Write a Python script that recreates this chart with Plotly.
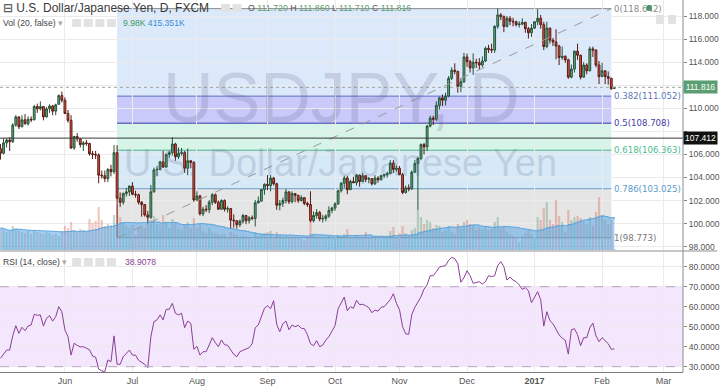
import numpy as np
import pandas as pd
import plotly.graph_objects as go

# ---------------- data ----------------
dates = pd.bdate_range("2016-05-03", "2017-02-07")

open_ = [106.50,106.10,107.00,107.25,107.10,108.55,109.25,108.40,109.00,108.65,
         109.05,109.00,110.15,109.95,110.15,109.25,109.95,110.20,109.75,110.35,111.10,
         110.70,109.55,108.95,106.55,107.55,107.35,106.85,107.00,106.95,106.05,
         106.00,105.95,104.20,104.15,103.90,104.70,104.50,106.15,102.20,101.85,
         102.60,102.75,103.25,102.55,102.50,101.85,101.65,100.75,100.55,102.75,
         104.65,104.70,105.35,104.90,106.00,106.15,106.90,105.80,106.10,106.15,
         104.80,105.45,105.30,102.05,102.40,100.85,101.25,101.20,101.85,102.50,
         101.85,101.25,102.00,101.25,101.30,100.30,100.25,99.90,100.20,100.70,
         100.25,100.50,100.45,101.80,101.95,102.95,103.40,103.30,103.95,103.45,
         101.60,101.75,102.00,102.75,101.90,102.60,102.45,102.00,102.25,101.75,
         101.65,100.25,100.70,100.95,100.40,100.45,100.65,101.15,101.35,101.70,
         102.85,103.50,103.95,102.95,103.65,103.55,104.20,103.65,104.15,103.85,
         103.90,103.45,103.95,103.80,104.15,104.25,104.35,105.25,104.70,104.80,
         104.25,102.70,103.10,103.00,104.45,105.20,105.65,106.85,106.65,108.45,
         109.15,109.05,110.25,110.90,110.70,111.05,112.60,113.30,113.20,111.90,
         112.30,114.45,114.05,113.50,114.00,113.95,113.75,114.10,115.20,115.10,
         115.05,117.10,118.10,117.95,117.10,117.80,117.55,117.50,117.25,117.30,
         117.45,116.90,116.55,116.95,117.50,117.80,117.25,115.35,116.95,115.90,
         115.75,115.40,114.40,114.50,114.20,112.70,113.40,114.95,114.60,112.70,
         113.75,113.25,115.15,115.05,113.75,112.75,113.25,112.75,112.60,111.72]

high_ = [106.90,107.40,107.40,107.50,108.70,109.40,109.30,109.40,109.50,109.30,
         109.30,110.30,110.40,110.60,110.20,110.10,110.35,110.30,110.40,111.20,111.45,
         110.95,109.85,109.40,107.60,107.85,107.40,107.15,107.25,107.00,106.30,
         106.30,106.10,104.60,104.60,104.80,105.10,106.80,106.80,102.70,102.70,
         103.10,103.30,103.60,102.85,102.60,101.95,101.70,101.10,103.35,104.85,
         105.00,105.45,106.30,106.05,106.30,107.50,107.00,106.60,106.55,106.30,
         106.50,105.50,105.40,102.80,102.50,101.45,101.60,102.05,102.65,102.60,
         102.00,102.10,102.10,101.50,101.35,100.80,100.30,100.35,100.85,100.75,
         100.65,100.70,102.05,102.35,103.00,103.50,104.20,104.20,104.05,103.55,
         102.05,102.25,103.00,102.80,102.80,102.65,102.50,102.45,102.30,101.90,
         102.80,101.05,101.25,101.10,100.75,100.80,101.50,101.45,101.85,102.90,
         103.60,104.15,104.15,103.80,104.05,104.30,104.25,104.40,104.20,104.05,
         103.95,104.20,104.10,104.25,104.30,104.50,105.50,105.50,105.05,105.00,
         104.40,103.30,103.40,104.60,105.50,105.80,106.95,107.00,108.55,109.35,
         109.35,110.60,111.00,111.20,111.35,112.80,113.55,113.90,113.25,112.60,
         114.80,114.75,114.20,114.75,114.30,114.35,114.50,115.35,115.50,115.60,
         117.20,118.643,118.25,118.05,118.00,118.00,117.85,117.60,117.55,117.80,
         117.50,117.05,117.30,117.55,118.60,118.10,117.50,117.50,117.00,116.10,
         116.85,115.50,115.35,114.60,114.30,113.80,115.00,115.60,114.65,114.00,
         113.90,115.35,115.35,115.10,114.10,113.95,113.30,113.20,112.65,111.86]

low_ = [105.55,106.00,106.60,106.30,107.00,108.40,108.20,108.35,108.60,108.50,
        108.80,108.95,109.60,109.80,108.95,109.20,109.60,109.40,109.40,110.30,110.50,
        109.50,108.75,106.50,106.40,107.10,106.60,106.30,106.75,105.90,105.60,
        105.60,103.50,103.90,103.60,103.60,104.10,104.30,98.773,101.45,101.65,
        102.35,102.40,102.45,102.25,101.65,100.60,100.60,99.95,100.40,102.70,
        104.10,104.60,104.85,104.85,105.70,105.90,105.45,105.60,105.90,104.40,
        104.20,104.80,101.90,101.95,100.70,100.65,101.00,100.90,101.60,101.70,
        101.20,101.20,101.05,100.95,99.55,99.65,99.55,99.70,100.00,99.95,
        100.00,100.30,99.75,101.75,101.90,102.50,102.90,102.80,103.30,101.20,
        101.15,101.45,101.75,101.70,101.75,101.85,101.80,101.90,101.60,101.45,
        100.10,100.10,100.45,100.20,100.10,100.20,100.50,100.90,101.10,101.65,
        102.70,103.10,102.55,102.90,103.50,103.30,103.20,103.60,103.60,103.50,
        103.30,103.35,103.55,103.75,103.95,104.00,104.30,104.40,104.50,104.20,
        102.55,102.60,102.80,102.95,104.40,101.20,105.50,106.00,106.30,108.35,
        108.55,108.90,109.90,110.20,110.25,110.95,112.45,112.95,111.35,111.40,
        112.20,113.60,113.10,112.90,113.50,113.35,113.55,114.00,114.80,114.80,
        114.80,116.90,117.65,116.60,117.00,117.20,117.10,117.10,117.00,117.20,
        116.55,116.05,116.20,116.90,117.20,116.90,115.05,115.20,115.60,115.40,
        114.25,113.75,114.20,113.95,112.55,112.60,113.10,114.20,112.50,112.65,
        112.95,113.20,114.45,113.55,112.10,112.70,112.10,112.05,111.60,111.71]

close_ = [106.10,107.00,107.25,107.10,108.55,109.25,108.40,109.00,108.65,109.05,
          109.00,110.15,109.95,110.15,109.25,109.95,110.20,109.75,110.30,111.10,110.70,
          109.55,108.95,106.55,107.55,107.35,106.85,107.00,106.95,106.05,106.00,
          105.95,104.20,104.15,103.90,104.70,104.50,106.15,102.20,101.85,102.60,
          102.75,103.25,102.55,102.50,101.85,101.65,100.75,100.55,102.75,104.65,
          104.70,105.35,104.90,106.00,106.15,106.90,105.80,106.10,106.15,104.80,
          105.45,105.30,102.05,102.40,100.85,101.25,101.20,101.85,102.50,101.85,
          101.25,102.00,101.25,101.30,100.30,100.25,99.90,100.20,100.70,100.25,
          100.50,100.45,101.80,101.95,102.95,103.40,103.30,103.95,103.45,101.60,
          101.75,102.00,102.75,101.90,102.60,102.45,102.00,102.25,101.75,101.65,
          100.25,100.70,100.95,100.40,100.45,100.65,101.15,101.35,101.70,102.85,
          103.50,103.95,102.95,103.65,103.55,104.20,103.65,104.15,103.85,103.90,
          103.45,103.95,103.80,104.15,104.25,104.35,105.25,104.70,104.80,104.25,
          102.70,103.10,103.00,104.45,105.20,105.65,106.85,106.65,108.45,109.15,
          109.05,110.25,110.90,110.70,111.05,112.60,113.30,113.20,111.90,112.30,
          114.45,114.05,113.50,114.00,113.95,113.75,114.10,115.20,115.10,115.05,
          117.10,118.10,117.95,117.10,117.80,117.55,117.50,117.25,117.30,117.45,
          116.90,116.55,116.95,117.50,117.80,117.25,115.35,116.95,115.90,115.75,
          115.40,114.40,114.50,114.20,112.70,113.40,114.95,114.60,112.70,113.75,
          113.25,115.15,115.05,113.75,112.75,113.25,112.75,112.60,111.70,111.816]

volume_k = [277,252,227,239,302,277,252,227,214,239,202,252,227,214,202,227,214,189,202,176,239,
            302,277,353,252,239,265,252,239,391,340,365,542,378,302,328,315,441,567,416,353,
            302,277,315,189,277,302,277,328,378,428,328,315,441,353,277,391,353,277,252,328,
            353,277,403,277,328,239,214,277,227,214,202,189,202,164,227,202,189,164,176,164,
            151,139,227,176,202,214,227,239,151,227,189,164,176,164,164,151,151,139,126,164,
            466,202,164,151,151,164,176,151,151,189,176,202,265,151,151,176,164,164,227,151,
            164,176,151,139,151,151,239,290,164,214,302,214,189,252,277,517,416,328,378,353,
            277,315,302,227,252,302,227,202,328,277,353,378,328,315,252,277,265,302,252,265,
            353,416,277,302,227,202,176,151,101,176,214,252,202,151,416,378,529,605,378,328,
            630,428,353,227,504,378,416,428,403,353,328,416,302,479,668,441,378,328,378,9.98]

rsi_values = [34.2,36.3,38.3,38.3,45.5,50.5,46.7,49.7,48.0,50.3,50.9,56.2,55.7,55.9,50.3,54.2,55.5,52.8,55.0,60.0,57.5,
              48.4,45.0,35.8,41.7,40.7,39.9,40.0,39.3,38.5,35.3,34.8,28.8,27.9,27.5,33.4,32.5,45.4,31.2,31.2,35.0,36.4,38.3,35.8,35.8,33.2,
              32.3,31.2,29.5,45.0,52.5,53.4,55.9,53.4,58.7,58.7,61.7,56.7,55.9,56.7,49.5,52.8,51.7,38.7,40.2,35.8,37.5,37.5,40.85,44.5,42.0,
              40.0,43.4,41.0,40.7,38.5,36.2,35.0,37.5,38.2,38.7,39.5,41.5,49.5,50.85,55.5,59.2,60.5,59.0,63.0,51.0,47.5,51.5,52.8,48.5,50.85,
              50.0,50.7,49.2,49.0,46.0,41.5,40.5,43.0,40.0,40.8,43.3,45.0,47.5,50.5,59.0,62.0,64.8,58.0,60.0,59.2,63.2,61.0,61.2,60.5,59.5,
              57.0,58.3,57.8,59.7,60.0,61.5,63.5,66.5,61.7,58.5,50.0,46.5,46.2,56.0,59.7,62.3,65.0,68.8,71.0,75.5,75.5,77.5,79.8,80.2,80.5,
              83.2,84.7,84.0,81.5,72.2,74.5,78.0,75.5,71.7,72.3,72.5,71.3,72.5,75.5,75.0,75.5,80.6,82.5,80.0,73.3,74.8,73.3,72.5,70.9,68.7,
              69.5,68.0,62.0,64.5,67.5,63.5,50.3,57.5,53.0,51.5,49.0,45.9,44.3,43.2,36.3,48.5,49.0,46.0,40.5,44.5,44.5,49.5,51.8,45.5,42.5,
              44.5,43.0,41.5,38.7,38.9078]

month_starts = ["2016-06-01", "2016-07-01", "2016-08-01", "2016-09-01", "2016-10-03",
                "2016-11-01", "2016-12-01", "2017-01-02", "2017-02-01", "2017-03-01"]
month_labels = ["Jun", "Jul", "Aug", "Sep", "Oct", "Nov", "Dec", "<b>2017</b>", "Feb", "Mar"]

price_ticks = [98, 100, 102, 104, 106, 108, 110, 112, 114, 116, 118]
price_tick_text = ["98.000", "100.000", "102.000", "104.000", "106.000", "",
                   "110.000", "", "114.000", "116.000", "118.000"]
rsi_ticks = [30, 40, 50, 60, 70, 80]

fib_low, fib_high = 98.773, 118.6425
fib_start, fib_end = "2016-06-24", "2017-02-06"
fib_levels = [0, 0.382, 0.5, 0.618, 0.786, 1]
hline_price = 107.412
last_price = 111.816

# ---------------- positions ----------------
all_days = pd.bdate_range("2016-05-03", "2017-03-01")
xpos = np.arange(len(dates))
tick_pos = [all_days.get_loc(pd.Timestamp(d)) for d in month_starts]
fx0 = all_days.get_loc(pd.Timestamp(fib_start))
fx1 = all_days.get_loc(pd.Timestamp(fib_end))

W_PLOT, H_PLOT = 686.0, 372.0
def px(x): return x / W_PLOT
def py(y): return 1 - y / H_PLOT

FONT = "Liberation Sans"
fig = go.Figure()

# volume
vol_colors = ["rgba(107,165,131,0.42)" if c >= o else "rgba(215,84,66,0.32)"
              for o, c in zip(open_, close_)]
fig.add_trace(go.Bar(x=xpos, y=volume_k, marker=dict(color=vol_colors, line=dict(width=0)),
                     width=0.72, xaxis="x", yaxis="y3", showlegend=False, hoverinfo="skip"))
vol_ma = pd.Series(volume_k).rolling(20, min_periods=1).mean()
fig.add_trace(go.Scatter(x=xpos, y=vol_ma, mode="lines", fill="tozeroy",
                         line=dict(color="rgba(70,155,225,0.8)", width=1, shape="hv"),
                         fillcolor="rgba(90,168,232,0.55)",
                         xaxis="x", yaxis="y3", showlegend=False, hoverinfo="skip"))

# candles
fig.add_trace(go.Candlestick(
    x=xpos, open=open_, high=high_, low=low_, close=close_,
    increasing=dict(fillcolor="#6ba583", line=dict(color="#225437", width=1)),
    decreasing=dict(fillcolor="#d75442", line=dict(color="#5b1a13", width=1)),
    xaxis="x", yaxis="y", showlegend=False, whiskerwidth=0))

# RSI
fig.add_trace(go.Scatter(x=xpos, y=rsi_values, mode="lines",
                         line=dict(color="#8a3f96", width=1),
                         xaxis="x2", yaxis="y2", showlegend=False))

shapes = []
# fib fills
fib_prices = [fib_high - l * (fib_high - fib_low) for l in fib_levels]
fill_cols = ["rgb(220,233,250)", "rgb(201,201,250)", "rgb(215,244,232)",
             "rgb(213,233,246)", "rgb(229,229,229)"]
for i in range(5):
    shapes.append(dict(type="rect", xref="x", yref="y", x0=fx0, x1=fx1,
                       y0=fib_prices[i + 1], y1=fib_prices[i], fillcolor=fill_cols[i],
                       line=dict(width=0), layer="below"))
line_cols = ["#8c8c8c", "#5a6cc2", "#3434a8", "#4cb585", "#6a9ecb", "#8c8c8c"]
for p, c in zip(fib_prices, line_cols):
    shapes.append(dict(type="line", xref="x", yref="y", x0=fx0, x1=fx1, y0=p, y1=p,
                       line=dict(color=c, width=1), layer="below"))
# diagonal
shapes.append(dict(type="line", xref="x", yref="y", x0=fx0, x1=fx1, y0=fib_low, y1=fib_high,
                   line=dict(color="#9a9a9a", width=1, dash="dash")))
# horizontal lines
shapes.append(dict(type="line", xref="paper", yref="y", x0=0, x1=1, y0=hline_price, y1=hline_price,
                   line=dict(color="#3a3a3a", width=1)))
shapes.append(dict(type="line", xref="paper", yref="y", x0=0, x1=1, y0=last_price, y1=last_price,
                   line=dict(color="#9aaa9e", width=1, dash="dot")))
# RSI band
shapes.append(dict(type="rect", xref="paper", yref="y2", x0=0, x1=1, y0=30, y1=70,
                   fillcolor="rgb(244,230,252)", line=dict(width=0), layer="below"))
for v in (30, 70):
    shapes.append(dict(type="line", xref="paper", yref="y2", x0=0, x1=1, y0=v, y1=v,
                       line=dict(color="#b9a6c2", width=1, dash="dash")))
# separators
shapes.append(dict(type="line", xref="paper", yref="paper", x0=0, x1=1.05, y0=py(251), y1=py(251),
                   line=dict(color="#b4b4b4", width=1.5)))
shapes.append(dict(type="line", xref="paper", yref="paper", x0=1, x1=1, y0=0, y1=1,
                   line=dict(color="#8a8a8a", width=1)))
# legend buttons
def btn(x0, y0, w=9, h=8):
    shapes.append(dict(type="rect", xref="paper", yref="paper", x0=px(x0), x1=px(x0 + w),
                       y0=py(y0 + h), y1=py(y0), fillcolor="#e2e2e2", line=dict(width=0)))
for bx in (72.5, 84.2, 95.8, 107.4):
    btn(bx, 19)
    btn(bx, 258)
btn(222, 4)
btn(233.5, 4)
btn(659, 15, 8, 9)
btn(671, 15, 8, 9)

ann = []
def text(x, y, s, size=8.6, color="#444", anchor="left", family=FONT, **kw):
    ann.append(dict(xref="paper", yref="paper", x=px(x), y=py(y), text=s, showarrow=False,
                    xanchor=anchor, yanchor="middle", font=dict(size=size, color=color, family=family), **kw))

# watermark
text(343, 98, "USDJPY, D", size=70, color="rgba(95,95,140,0.20)", anchor="center")
text(342, 163, "U.S. Dollar/Japanese Yen", size=38, color="rgba(95,95,140,0.20)", anchor="center")

text(1, 8, "⊟ U.S. Dollar/Japanese Yen, D, FXCM", size=12, color="#3a3a3a")
g = "#5f9c73"
text(247, 8, f"O <span style='color:{g}'>111.720</span> H <span style='color:{g}'>111.860</span> "
             f"L <span style='color:{g}'>111.710</span> C <span style='color:{g}'>111.816</span>",
     size=8.8, color="#555")
text(1, 23, "Vol (20, false) <span style='color:#aaa'>▾</span>")
text(122, 23, "<span style='color:#3f9a60'>9.98K</span> <span style='color:#3a8fd2'>415.351K</span>")
text(1, 262, "RSI (14, close) <span style='color:#aaa'>▾</span>")
text(124, 262, "38.9078", color="#8a3f96")

# fib labels
lab_cols = ["#8a8a8a", "#5b78b8", "#3d3da6", "#4cbb8c", "#5a9bc8", "#777777"]
for l, p, c in zip(fib_levels, fib_prices, lab_cols):
    ann.append(dict(xref="x", yref="y", x=fx1, y=p, xshift=1, text=f"{l:g}({p:.3f})",
                    showarrow=False, xanchor="left", yanchor="middle",
                    font=dict(size=8.6, color=c, family="DejaVu Sans")))

# price labels on axis
for val, bg in ((last_price, "#5b9e72"), (hline_price, "#111111")):
    ann.append(dict(xref="paper", yref="y", x=1, y=val, text=f"{val:.3f}", showarrow=False,
                    xanchor="left", yanchor="middle", bgcolor=bg, width=31, borderpad=1,
                    font=dict(size=8.5, color="white", family=FONT)))
# realtime dot
shapes.append(dict(type="circle", xref="paper", yref="paper", x0=px(649), x1=px(655),
                   y0=py(11), y1=py(5), fillcolor="#2f9a5a", line=dict(width=0)))

axis_font = dict(size=8.5, color="#555", family=FONT)
grid = "#ebebeb"
fig.update_layout(
    width=720, height=391, margin=dict(l=0, r=34, t=0, b=19),
    paper_bgcolor="white", plot_bgcolor="white",
    shapes=shapes, annotations=ann, showlegend=False, hovermode=False,
    boxgap=0.15,
    xaxis=dict(domain=[0, 1], anchor="y", range=[-0.15, 222.36], showticklabels=False,
               tickvals=tick_pos, showgrid=True, gridcolor=grid, zeroline=False,
               rangeslider=dict(visible=False), fixedrange=True),
    xaxis2=dict(domain=[0, 1], anchor="y2", matches="x", range=[-0.15, 222.36],
                tickvals=tick_pos, ticktext=month_labels, showgrid=True, gridcolor=grid,
                zeroline=False, showline=True, linecolor="#7a7a7a", ticks="",
                tickfont=dict(size=9, color="#555", family=FONT)),
    yaxis=dict(domain=[py(250), 1], anchor="x", side="right", range=[97.71, 119.39],
               tickvals=price_ticks, ticktext=price_tick_text, showgrid=True, gridcolor=grid,
               zeroline=False, ticks="outside", ticklen=3, tickcolor="#888",
               tickfont=axis_font),
    yaxis3=dict(overlaying="y", anchor="x", range=[0, 3150], visible=False),
    yaxis2=dict(domain=[0, py(252)], anchor="x2", side="right", range=[27.35, 87.35],
                tickvals=rsi_ticks, tickformat=".4f", showgrid=True, gridcolor=grid,
                zeroline=False, ticks="outside", ticklen=3, tickcolor="#888",
                tickfont=axis_font),
    bargap=0.2,
)

fig.write_html("out.html")
